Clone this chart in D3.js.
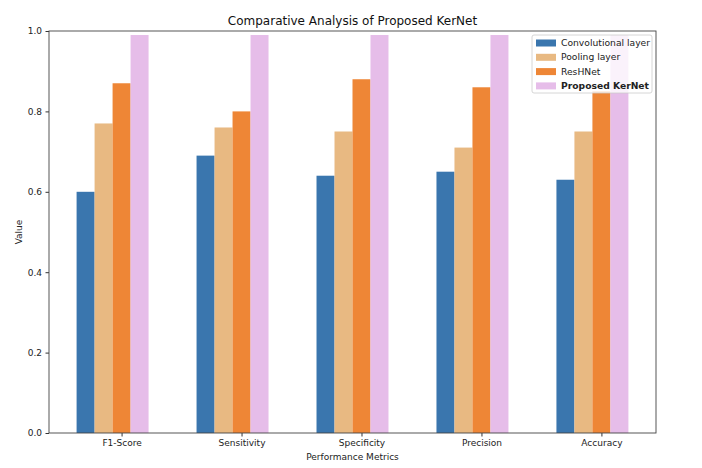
<!DOCTYPE html>
<html>
<head>
<meta charset="utf-8">
<script src="https://cdn.jsdelivr.net/npm/d3@7"></script>
<style>
  body { margin: 0; background: #fff; }
  svg { font-family: "DejaVu Sans", sans-serif; }
</style>
</head>
<body>
<svg id="chart"></svg>
<script>
// data
var metrics = ["F1-Score", "Sensitivity", "Specificity", "Precision", "Accuracy"];
var seriesNames = ["Convolutional layer", "Pooling layer", "ResHNet", "Proposed KerNet"];
var convValues = [0.60, 0.69, 0.64, 0.65, 0.63];
var poolValues = [0.77, 0.76, 0.75, 0.71, 0.75];
var reshValues = [0.87, 0.80, 0.88, 0.86, 0.85];
var kerValues = [0.99, 0.99, 0.99, 0.99, 0.99];
var yTicks = [0.0, 0.2, 0.4, 0.6, 0.8, 1.0];
var colors = ["#3a76ae", "#e8b982", "#ee8636", "#e6bde9"];

var series = [convValues, poolValues, reshValues, kerValues];

var W = 702, H = 468;
var margin = { top: 31, right: 46, bottom: 35, left: 49 },
    w = W - margin.left - margin.right,
    h = H - margin.top - margin.bottom;

var svg = d3.select("#chart").attr("width", W).attr("height", H);
var g = svg.append("g").attr("transform", `translate(${margin.left},${margin.top})`);

// bar width 0.15, bars offset so the tick sits on the third bar
var bw = 0.15;
var x = d3.scaleLinear().domain([-0.605, 4.455]).range([0, w]);
var y = d3.scaleLinear().domain([0, 1]).range([h, 0]);

series.forEach(function (vals, s) {
    var off = (s - 2) * bw;
    g.selectAll(".bar" + s)
        .data(vals)
        .join("rect")
        .attr("class", "bar" + s)
        .attr("x", (d, i) => x(i + off - bw / 2))
        .attr("width", x(bw) - x(0))
        .attr("y", d => y(d))
        .attr("height", d => h - y(d))
        .attr("fill", colors[s]);
});

// axes
var xAxis = d3.axisBottom(x).tickValues(d3.range(metrics.length))
    .tickFormat(i => metrics[i]).tickSizeOuter(0).tickSize(3.5).tickPadding(3.5);
var yAxis = d3.axisLeft(y).tickValues(yTicks)
    .tickFormat(d3.format(".1f")).tickSizeOuter(0).tickSize(3.5).tickPadding(3.5);

g.append("g").attr("transform", `translate(0,${h})`).call(xAxis);
g.append("g").call(yAxis);
g.selectAll(".tick text").attr("font-size", 9).attr("fill", "#222")
    .attr("font-family", "DejaVu Sans");
g.selectAll(".tick line").attr("stroke", "#333");
g.selectAll(".domain").remove();

// frame
g.append("rect").attr("width", w).attr("height", h)
    .attr("fill", "none").attr("stroke", "#444").attr("stroke-width", 0.9);

// titles
svg.append("text").attr("x", margin.left + w / 2).attr("y", 25)
    .attr("text-anchor", "middle").attr("font-size", 12).attr("fill", "#111")
    .text("Comparative Analysis of Proposed KerNet");
svg.append("text").attr("x", margin.left + w / 2).attr("y", 460)
    .attr("text-anchor", "middle").attr("font-size", 9).attr("fill", "#222")
    .text("Performance Metrics");
svg.append("text")
    .attr("transform", `translate(22,${margin.top + h / 2}) rotate(-90)`)
    .attr("text-anchor", "middle").attr("font-size", 9).attr("fill", "#222")
    .text("Value");

// legend
var lg = svg.append("g").attr("transform", "translate(532,35)");
lg.append("rect").attr("width", 120).attr("height", 58).attr("rx", 2)
    .attr("fill", "white").attr("fill-opacity", 0.8)
    .attr("stroke", "#ccc").attr("stroke-width", 0.8);
seriesNames.forEach(function (name, i) {
    var ry = 7.5 + i * 14.3;
    lg.append("rect").attr("x", 4).attr("y", ry - 3).attr("width", 20).attr("height", 7)
        .attr("fill", colors[i]);
    lg.append("text").attr("x", 29).attr("y", ry + 3.5)
        .attr("font-size", 9.2).attr("fill", "#222")
        .attr("font-weight", i === 3 ? "bold" : "normal")
        .text(name);
});
</script>
</body>
</html>
